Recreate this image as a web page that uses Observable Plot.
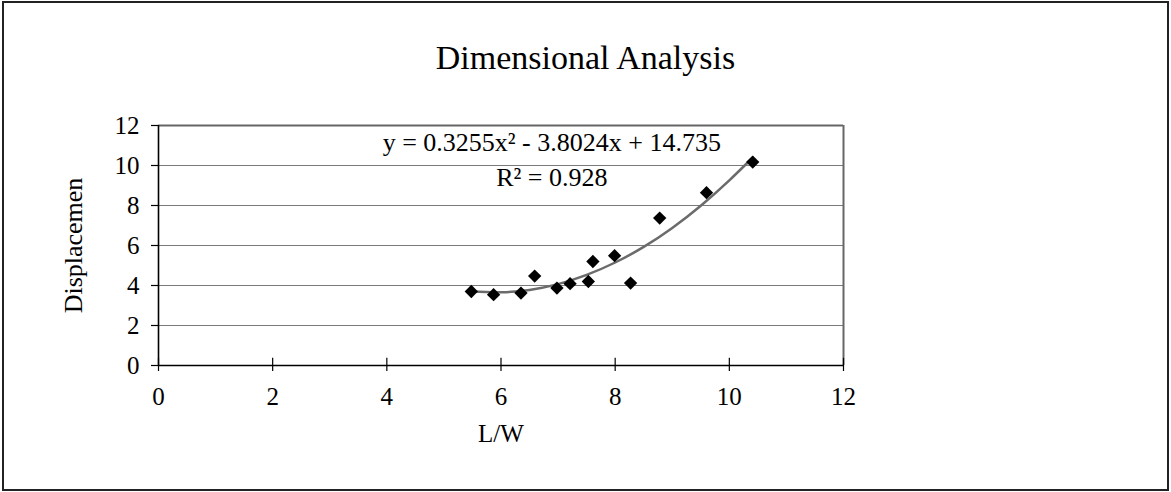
<!DOCTYPE html>
<html>
<head>
<meta charset="utf-8">
<script src="https://cdn.jsdelivr.net/npm/d3@7"></script>
<script src="https://cdn.jsdelivr.net/npm/@observablehq/plot@0.6"></script>
<style>
  html, body { margin: 0; padding: 0; background: #fff; }
  #page { position: relative; width: 1171px; height: 492px; overflow: hidden; }
  #frame { position: absolute; left: 2px; top: 1px; width: 1167px; height: 490px; box-sizing: border-box; border: 2px solid #222; pointer-events: none; }
  #title { height: 100px; box-sizing: border-box; padding-top: 40px; text-align: center; font-family: "Liberation Serif", "Times New Roman", serif; font-size: 34px; line-height: 36px; color: #000; }
  #chart svg { display: block; }
</style>
</head>
<body>
<div id="page">
  <div id="title">Dimensional Analysis</div>
  <div id="chart"></div>
  <div id="frame"></div>
</div>
<script>
// Data
const lw   = [5.48, 5.87, 6.35, 6.59, 6.98, 7.21, 7.53, 7.61, 7.99, 8.27, 8.78, 9.60, 10.41];
const disp = [3.70, 3.54, 3.62, 4.47, 3.87, 4.09, 4.20, 5.20, 5.49, 4.12, 7.37, 8.64, 10.17];
// Trendline
const trendX = [5.48, 6.0, 6.5, 7.0, 7.5, 8.0, 8.5, 9.0, 9.5, 10.0, 10.41];
const trendY = [3.70, 3.66, 3.78, 4.07, 4.53, 5.15, 5.93, 6.88, 7.99, 9.26, 10.40];
const xTicks = [0, 2, 4, 6, 8, 10, 12];
const yTicks = [0, 2, 4, 6, 8, 10, 12];
const equationText = "y = 0.3255x\u00B2 - 3.8024x + 14.735";
const r2Text = "R\u00B2 = 0.928";
const xLabel = "L/W";
const yLabel = "Displacemen";

const points = lw.map((x, i) => ({x, y: disp[i]}));
const trend = trendX.map((x, i) => ({x, y: trendY[i]}));
const serif = '"Liberation Serif", "Times New Roman", serif';

const chart = Plot.plot({
  width: 1171,
  height: 392,
  marginLeft: 158,
  marginRight: 328,
  marginTop: 25,
  marginBottom: 127,
  style: {fontFamily: serif, background: "transparent", color: "#000", overflow: "visible"},
  x: {domain: [0, 12], ticks: xTicks, label: null},
  y: {domain: [0, 12], ticks: yTicks, label: null},
  marks: [
    Plot.gridY(yTicks.filter(d => d > 0 && d < 12), {stroke: "#7a7a7a", strokeOpacity: 1, strokeWidth: 1}),
    Plot.ruleY([12], {stroke: "#666", strokeWidth: 2}),
    Plot.ruleX([12], {stroke: "#666", strokeWidth: 2}),
    Plot.ruleX(xTicks, {y1: -0.3, y2: 0.36, stroke: "#000", strokeWidth: 1.2}),
    Plot.ruleY([0], {stroke: "#000", strokeWidth: 1.6}),
    Plot.ruleX([0], {stroke: "#000", strokeWidth: 1.6}),
    Plot.axisX({ticks: xTicks, tickSize: 0, tickPadding: 22, fontSize: 25, label: null}),
    Plot.axisY({ticks: yTicks, tickSize: 7, tickPadding: 12, fontSize: 25, label: null, strokeWidth: 1.2}),
    Plot.line(trend, {x: "x", y: "y", curve: "natural", stroke: "#6b6b6b", strokeWidth: 2.5}),
    Plot.dot(points, {x: "x", y: "y", symbol: "diamond2", r: 6, fill: "#000", stroke: "none"}),
    Plot.text([equationText], {x: 6.89, y: 11.13, text: d => d, fontSize: 26, textAnchor: "middle", lineAnchor: "middle", fill: "#000"}),
    Plot.text([r2Text], {x: 6.89, y: 9.4, text: d => d, fontSize: 26, textAnchor: "middle", lineAnchor: "middle", fill: "#000"}),
    Plot.text([xLabel], {frameAnchor: "bottom", dy: 68, text: d => d, fontSize: 25, textAnchor: "middle", lineAnchor: "middle", fill: "#000"}),
    Plot.text([yLabel], {frameAnchor: "left", dx: -85, rotate: -90, text: d => d, fontSize: 26, textAnchor: "middle", lineAnchor: "middle", fill: "#000"})
  ]
});
document.getElementById("chart").appendChild(chart);
</script>
</body>
</html>
